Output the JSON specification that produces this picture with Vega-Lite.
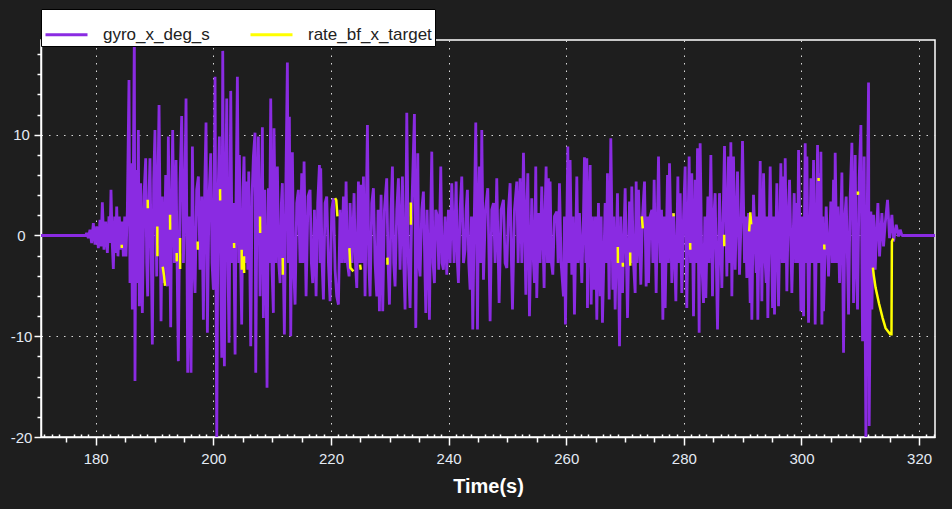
{
"$schema": "https://vega.github.io/schema/vega-lite/v6.json",
"width": 894, "height": 397,
"autosize": "none",
"padding": {"left": 41, "top": 40, "right": 17, "bottom": 72},
"background": "#1e1e1e",
"config": {"view": {"stroke": "#ffffff", "strokeWidth": 1.5}, "font": "Liberation Sans"},
"datasets": {
"gyro": [
{"t":170.7,"v":0},{"t":178.3,"v":0},
{"t":178.46,"v":0.24},{"t":178.75,"v":-0.26},{"t":179.03,"v":0.57},{"t":179.31,"v":-0.75},{"t":179.6,"v":1.23},{"t":179.88,"v":-0.92},{"t":180.16,"v":0.9},{"t":180.45,"v":-1.25},{"t":180.73,"v":1.56},{"t":180.9,"v":-1.08},{"t":181.13,"v":3.3},{"t":181.41,"v":-1.41},{"t":181.7,"v":1.39},{"t":181.98,"v":-1.74},{"t":182.26,"v":1.89},{"t":182.43,"v":-0.75},{"t":182.6,"v":4.53},{"t":182.83,"v":-1.08},{"t":183.0,"v":-3.33},{"t":183.23,"v":1.89},{"t":183.4,"v":-1.74},{"t":183.57,"v":2.88},{"t":183.79,"v":-2.07},{"t":184.02,"v":1.89},{"t":184.25,"v":-1.41},{"t":184.47,"v":1.39},{"t":184.7,"v":-2.07},{"t":184.93,"v":1.89},{"t":185.15,"v":-2.07},{"t":185.38,"v":2.55},{"t":185.66,"v":15.42},{"t":185.83,"v":-4.72},{"t":186.0,"v":7.17},{"t":186.23,"v":-7.35},{"t":186.4,"v":6.18},{"t":186.57,"v":20},{"t":186.68,"v":-14.45},{"t":186.85,"v":6.5},{"t":187.08,"v":-4.72},{"t":187.25,"v":10.47},{"t":187.42,"v":-7.03},{"t":187.65,"v":5.19},{"t":187.93,"v":-7.68},{"t":188.21,"v":3.87},{"t":188.5,"v":7.66},{"t":188.67,"v":-2.73},{"t":188.84,"v":-6.04},{"t":189.06,"v":3.87},{"t":189.23,"v":7.66},{"t":189.46,"v":-2.73},{"t":189.63,"v":-10.82},{"t":189.86,"v":5.52},{"t":190.08,"v":10.47},{"t":190.37,"v":-4.06},{"t":190.6,"v":5.85},{"t":190.77,"v":12.94},{"t":191.11,"v":-8.51},{"t":191.33,"v":3.87},{"t":191.62,"v":-4.72},{"t":191.9,"v":6.01},{"t":192.18,"v":-5.05},{"t":192.35,"v":9.81},{"t":192.75,"v":-9.1},{"t":192.92,"v":3.87},{"t":193.09,"v":10.47},{"t":193.37,"v":-2.73},{"t":193.66,"v":7.5},{"t":193.88,"v":-4.72},{"t":194.05,"v":-12.47},{"t":194.34,"v":5.19},{"t":194.62,"v":11.85},{"t":194.91,"v":-2.73},{"t":195.13,"v":3.21},{"t":195.36,"v":13.6},{"t":195.64,"v":-13.63},{"t":195.93,"v":1.89},{"t":196.21,"v":-13.63},{"t":196.44,"v":8.82},{"t":196.66,"v":-2.73},{"t":196.89,"v":-5.71},{"t":197.17,"v":4.53},{"t":197.46,"v":5.85},{"t":197.74,"v":-3.4},{"t":198.03,"v":3.87},{"t":198.31,"v":-8.35},{"t":198.54,"v":4.86},{"t":198.76,"v":11.2},{"t":198.99,"v":-9.66},{"t":199.27,"v":3.87},{"t":199.56,"v":8.16},{"t":199.78,"v":-2.73},{"t":200.01,"v":-5.38},{"t":200.29,"v":15.75},{"t":200.58,"v":-20.5},{"t":200.8,"v":3.87},{"t":201.03,"v":9.81},{"t":201.26,"v":-3.4},{"t":201.43,"v":-12.14},{"t":201.6,"v":18.32},{"t":201.88,"v":-12.97},{"t":202.11,"v":5.52},{"t":202.28,"v":13.6},{"t":202.5,"v":-3.4},{"t":202.67,"v":-10.65},{"t":202.96,"v":14.35},{"t":203.19,"v":-2.73},{"t":203.41,"v":3.21},{"t":203.7,"v":-11.81},{"t":203.87,"v":3.87},{"t":204.09,"v":15.75},{"t":204.32,"v":-2.73},
{"t":204.43,"v":7.99},{"t":204.65,"v":-2.73},{"t":204.82,"v":-8.84},{"t":205.05,"v":4.53},{"t":205.22,"v":7.83},{"t":205.45,"v":-2.73},{"t":205.68,"v":5.35},{"t":205.85,"v":-3.4},{"t":206.02,"v":6.34},{"t":206.36,"v":-10.98},{"t":206.58,"v":3.87},{"t":206.81,"v":7.83},{"t":207.09,"v":10.2},{"t":207.21,"v":-13.63},{"t":207.43,"v":3.87},{"t":207.66,"v":9.81},{"t":207.94,"v":-6.04},{"t":208.17,"v":3.87},{"t":208.34,"v":10.73},{"t":208.51,"v":-8.18},{"t":208.74,"v":4.53},{"t":208.96,"v":-3.4},{"t":209.13,"v":-15.11},{"t":209.36,"v":4.69},{"t":209.53,"v":-2.73},{"t":209.76,"v":13.6},{"t":209.98,"v":-3.4},{"t":210.21,"v":-7.68},{"t":210.32,"v":10.63},{"t":210.61,"v":-2.73},{"t":210.89,"v":6.84},{"t":211.12,"v":-2.73},{"t":211.35,"v":-4.72},{"t":211.57,"v":3.21},{"t":211.74,"v":5.19},{"t":211.91,"v":-3.4},{"t":212.08,"v":-9.83},{"t":212.31,"v":3.87},{"t":212.59,"v":17.17},{"t":212.76,"v":-2.73},{"t":212.93,"v":11.79},{"t":213.16,"v":-9.99},{"t":213.44,"v":8.26},{"t":213.67,"v":-3.4},{"t":213.9,"v":-6.86},{"t":214.18,"v":3.21},{"t":214.46,"v":4.53},{"t":214.75,"v":-2.73},{"t":215.03,"v":6.18},{"t":215.2,"v":-2.73},{"t":215.43,"v":7.33},{"t":215.77,"v":-6.04},{"t":216.11,"v":3.87},{"t":216.45,"v":4.53},{"t":216.67,"v":-2.73},{"t":216.9,"v":-4.72},{"t":217.19,"v":2.55},{"t":217.47,"v":-6.04},{"t":217.75,"v":3.21},{"t":218.04,"v":7.0},{"t":218.15,"v":-2.73},{"t":218.26,"v":6.67},{"t":218.49,"v":-2.73},{"t":218.72,"v":-6.36},{"t":219.0,"v":3.21},{"t":219.28,"v":3.87},{"t":219.57,"v":-2.73},{"t":219.85,"v":-6.53},{"t":220.13,"v":2.55},{"t":220.42,"v":3.7},{"t":220.7,"v":-3.4},{"t":220.98,"v":-6.04},{"t":221.27,"v":-6.86},{"t":221.55,"v":2.55},{"t":221.83,"v":-2.73},{"t":222.12,"v":3.87},{"t":222.34,"v":-2.73},{"t":222.57,"v":5.35},{"t":222.8,"v":-2.73},{"t":223.08,"v":-4.06},{"t":223.25,"v":3.21},{"t":223.59,"v":-2.73},{"t":223.93,"v":4.2},{"t":224.16,"v":-2.73},{"t":224.39,"v":-5.21},{"t":224.67,"v":5.35},{"t":224.9,"v":-2.73},{"t":225.12,"v":5.02},{"t":225.35,"v":-2.73},{"t":225.52,"v":5.85},{"t":225.8,"v":-6.04},{"t":226.2,"v":10.96},{"t":226.43,"v":-2.73},{"t":226.65,"v":-6.04},{"t":226.94,"v":3.21},{"t":227.22,"v":4.69},{"t":227.5,"v":-2.73},{"t":227.79,"v":-6.04},{"t":228.01,"v":2.55},{"t":228.24,"v":-7.52},
{"t":228.52,"v":4.03},{"t":228.8,"v":-7.52},{"t":229.09,"v":2.55},{"t":229.48,"v":5.68},{"t":229.71,"v":-2.73},{"t":229.94,"v":-6.86},{"t":230.22,"v":2.55},{"t":230.45,"v":6.84},{"t":230.67,"v":-2.73},{"t":230.9,"v":-5.05},{"t":231.19,"v":2.55},{"t":231.47,"v":5.68},{"t":231.75,"v":-3.4},{"t":231.98,"v":1.89},{"t":232.15,"v":5.85},{"t":232.38,"v":-2.73},{"t":232.6,"v":-7.35},{"t":232.89,"v":12.18},{"t":233.17,"v":-2.73},{"t":233.45,"v":-7.19},{"t":233.74,"v":2.55},{"t":234.19,"v":12.05},{"t":234.42,"v":-9.17},{"t":234.76,"v":8.16},{"t":234.93,"v":-2.73},{"t":235.15,"v":-4.06},{"t":235.44,"v":2.55},{"t":235.72,"v":4.36},{"t":235.95,"v":-2.73},{"t":236.12,"v":-7.68},{"t":236.34,"v":2.55},{"t":236.57,"v":-2.73},{"t":236.74,"v":-8.35},{"t":236.97,"v":2.55},{"t":237.14,"v":8.32},{"t":237.36,"v":-2.73},{"t":237.59,"v":-4.72},{"t":237.82,"v":2.55},{"t":238.1,"v":1.89},{"t":238.33,"v":-3.4},{"t":238.67,"v":6.84},{"t":238.89,"v":-2.73},{"t":239.12,"v":-3.4},{"t":239.41,"v":1.89},{"t":239.69,"v":-3.89},{"t":239.97,"v":2.55},{"t":240.26,"v":-2.73},{"t":240.54,"v":5.19},{"t":240.94,"v":-2.73},{"t":241.28,"v":5.35},{"t":241.5,"v":-2.73},{"t":241.67,"v":-4.72},{"t":241.96,"v":2.55},{"t":242.24,"v":5.85},{"t":242.53,"v":-2.73},{"t":242.81,"v":-1.41},{"t":242.98,"v":2.55},{"t":243.2,"v":4.53},{"t":243.43,"v":-2.73},{"t":243.66,"v":-5.38},{"t":243.89,"v":1.89},{"t":244.11,"v":-9.33},{"t":244.39,"v":2.55},{"t":244.62,"v":11.2},{"t":244.91,"v":-9.33},{"t":245.08,"v":2.55},{"t":245.25,"v":6.84},{"t":245.47,"v":-2.73},{"t":245.64,"v":10.47},{"t":245.93,"v":-4.39},{"t":246.27,"v":2.55},{"t":246.66,"v":4.69},{"t":247.06,"v":-8.51},{"t":247.34,"v":2.55},{"t":247.63,"v":3.21},{"t":247.91,"v":-2.73},{"t":248.19,"v":5.68},{"t":248.59,"v":-6.7},{"t":248.93,"v":2.55},{"t":249.33,"v":3.54},{"t":249.61,"v":-2.73},{"t":249.9,"v":-3.23},{"t":250.18,"v":2.55},{"t":250.46,"v":5.19},{"t":250.69,"v":-2.73},{"t":250.86,"v":-7.35},{"t":251.2,"v":2.55},{"t":251.6,"v":5.35},{"t":251.82,"v":-2.73},{"t":252.16,"v":5.68},{"t":252.45,"v":-2.73},{"t":252.73,"v":8.22},{"t":253.13,"v":-5.87},{"t":253.3,"v":2.55},{"t":253.47,"v":6.18},{"t":253.75,"v":-8.02},
{"t":254.14,"v":3.7},{"t":254.43,"v":-2.73},{"t":254.6,"v":-4.72},{"t":254.82,"v":6.84},{"t":254.99,"v":-6.2},{"t":255.28,"v":2.22},{"t":255.56,"v":-2.73},{"t":255.84,"v":4.86},{"t":256.24,"v":-5.21},{"t":256.41,"v":2.55},{"t":256.58,"v":6.84},{"t":256.81,"v":-2.73},{"t":256.98,"v":5.68},{"t":257.15,"v":-2.73},{"t":257.26,"v":5.35},{"t":257.49,"v":-2.73},{"t":257.72,"v":-3.89},{"t":258.0,"v":1.89},{"t":258.4,"v":2.38},{"t":258.62,"v":-2.73},{"t":258.85,"v":5.19},{"t":259.13,"v":-2.73},{"t":259.53,"v":-6.04},{"t":259.7,"v":1.89},{"t":259.87,"v":-8.84},{"t":260.27,"v":8.82},{"t":260.44,"v":-2.73},{"t":260.66,"v":7.5},{"t":260.95,"v":-3.89},{"t":261.17,"v":1.89},{"t":261.4,"v":-7.85},{"t":261.8,"v":5.85},{"t":262.02,"v":-2.73},{"t":262.25,"v":2.22},{"t":262.65,"v":-4.72},{"t":262.93,"v":1.89},{"t":263.1,"v":7.76},{"t":263.33,"v":-2.73},{"t":263.5,"v":7.66},{"t":263.61,"v":-7.19},{"t":263.84,"v":1.89},{"t":264.07,"v":7.0},{"t":264.24,"v":-6.86},{"t":264.46,"v":1.89},{"t":264.75,"v":-5.38},{"t":264.97,"v":1.89},{"t":265.2,"v":-8.35},{"t":265.48,"v":3.21},{"t":265.77,"v":-6.04},{"t":265.94,"v":1.89},{"t":266.16,"v":-8.67},{"t":266.62,"v":3.21},{"t":266.84,"v":-2.73},{"t":267.01,"v":6.18},{"t":267.3,"v":-6.36},{"t":267.58,"v":9.64},{"t":267.92,"v":-5.38},{"t":268.09,"v":1.89},{"t":268.32,"v":-7.35},{"t":268.71,"v":4.2},{"t":269.06,"v":-10.98},{"t":269.28,"v":1.89},{"t":269.57,"v":-5.71},{"t":270.02,"v":4.69},{"t":270.42,"v":-8.18},{"t":270.76,"v":3.37},{"t":270.98,"v":-2.73},{"t":271.15,"v":4.86},{"t":271.44,"v":-2.73},{"t":271.72,"v":-5.71},{"t":271.89,"v":5.35},{"t":272.06,"v":-2.73},{"t":272.29,"v":4.53},{"t":272.68,"v":-4.88},{"t":272.97,"v":1.89},{"t":273.31,"v":5.35},{"t":273.59,"v":-5.05},{"t":273.82,"v":1.89},{"t":273.99,"v":-4.72},{"t":274.27,"v":1.89},{"t":274.56,"v":2.55},{"t":274.73,"v":-2.73},{"t":274.95,"v":5.52},{"t":275.29,"v":-5.71},{"t":275.69,"v":7.83},{"t":275.97,"v":-2.73},{"t":276.2,"v":2.55},{"t":276.43,"v":-8.35},{"t":276.65,"v":1.89},{"t":276.82,"v":-7.19},{"t":277.22,"v":6.01},{"t":277.39,"v":-2.73},{"t":277.56,"v":7.17},{"t":277.96,"v":-4.72},{"t":278.24,"v":2.22},{"t":278.64,"v":-6.53},{"t":278.98,"v":5.85},{"t":279.15,"v":-2.73},{"t":279.38,"v":4.2},{"t":279.55,"v":-2.73},
{"t":279.65,"v":-5.71},{"t":279.94,"v":1.89},{"t":280.22,"v":6.84},{"t":280.5,"v":-7.19},{"t":280.73,"v":1.89},{"t":280.9,"v":7.83},{"t":281.13,"v":-2.73},{"t":281.35,"v":6.18},{"t":281.64,"v":-8.02},{"t":281.92,"v":5.52},{"t":282.15,"v":-2.73},{"t":282.32,"v":8.65},{"t":282.6,"v":-9.66},{"t":282.77,"v":9.15},{"t":283.06,"v":-2.73},{"t":283.34,"v":-6.7},{"t":283.57,"v":1.89},{"t":283.74,"v":-6.2},{"t":284.08,"v":3.87},{"t":284.3,"v":-2.73},{"t":284.59,"v":7.99},{"t":284.87,"v":-6.04},{"t":285.1,"v":1.89},{"t":285.32,"v":4.2},{"t":285.72,"v":-9.33},{"t":286.06,"v":4.2},{"t":286.46,"v":-5.21},{"t":286.68,"v":1.89},{"t":286.91,"v":8.88},{"t":287.31,"v":-4.06},{"t":287.59,"v":7.83},{"t":287.82,"v":-2.73},{"t":287.99,"v":9.25},{"t":288.16,"v":-6.04},{"t":288.44,"v":7.83},{"t":288.72,"v":-3.4},{"t":289.12,"v":6.34},{"t":289.46,"v":-3.89},{"t":289.75,"v":1.89},{"t":289.97,"v":9.38},{"t":290.31,"v":-2.73},{"t":290.48,"v":1.89},{"t":290.71,"v":-4.22},{"t":290.99,"v":2.22},{"t":291.28,"v":-6.7},{"t":291.39,"v":1.89},{"t":291.56,"v":-8.35},{"t":291.84,"v":4.03},{"t":292.3,"v":-3.73},{"t":292.41,"v":1.89},{"t":292.58,"v":-8.35},{"t":292.98,"v":7.4},{"t":293.26,"v":-6.53},{"t":293.55,"v":6.18},{"t":293.83,"v":-2.73},{"t":294.0,"v":-4.72},{"t":294.11,"v":1.89},{"t":294.28,"v":-8.18},{"t":294.68,"v":6.84},{"t":295.08,"v":-7.19},{"t":295.25,"v":1.89},{"t":295.41,"v":-7.85},{"t":295.81,"v":5.19},{"t":296.1,"v":-7.03},{"t":296.49,"v":7.17},{"t":296.72,"v":-2.73},{"t":296.95,"v":5.85},{"t":297.12,"v":-2.73},{"t":297.23,"v":7.66},{"t":297.51,"v":-5.54},{"t":297.74,"v":1.89},{"t":297.97,"v":5.52},{"t":298.36,"v":-5.71},{"t":298.76,"v":4.2},{"t":298.99,"v":-2.73},{"t":299.21,"v":3.21},{"t":299.33,"v":-2.73},{"t":299.5,"v":8.49},{"t":299.9,"v":-7.52},{"t":300.12,"v":1.89},{"t":300.35,"v":-8.02},{"t":300.63,"v":9.15},{"t":300.8,"v":-2.73},{"t":300.92,"v":7.83},{"t":301.2,"v":-8.67},{"t":301.6,"v":5.68},{"t":301.82,"v":-2.73},{"t":302.05,"v":7.5},{"t":302.33,"v":-8.84},{"t":302.73,"v":8.98},{"t":302.9,"v":-2.73},{"t":303.07,"v":6.18},{"t":303.18,"v":-2.73},{"t":303.3,"v":8.32},{"t":303.47,"v":-8.84},{"t":303.64,"v":1.89},{"t":303.75,"v":-7.52},{"t":304.2,"v":2.88},{"t":304.6,"v":-4.06},{"t":304.99,"v":3.37},{"t":305.22,"v":-2.73},{"t":305.45,"v":5.52},{"t":305.62,"v":-2.73},{"t":305.73,"v":8.22},{"t":306.01,"v":-2.73},
{"t":306.19,"v":2.88},{"t":306.47,"v":-4.72},{"t":306.7,"v":1.89},{"t":306.87,"v":6.24},{"t":307.15,"v":-11.64},{"t":307.38,"v":1.89},{"t":307.6,"v":3.87},{"t":307.83,"v":-2.73},{"t":308.0,"v":-7.85},{"t":308.28,"v":3.87},{"t":308.57,"v":9.21},{"t":308.85,"v":-6.7},{"t":309.13,"v":7.99},{"t":309.3,"v":-2.73},{"t":309.53,"v":-7.35},{"t":309.81,"v":5.68},{"t":310.1,"v":10.96},{"t":310.38,"v":-10.49},{"t":310.66,"v":7.83},{"t":310.95,"v":-20.5},{"t":311.17,"v":1.89},{"t":311.4,"v":15.19},{"t":311.51,"v":-18.91},{"t":311.8,"v":2.38},{"t":311.97,"v":-7.35},{"t":312.25,"v":2.05},{"t":312.53,"v":-3.4},{"t":312.82,"v":1.23},{"t":312.99,"v":3.21},{"t":313.27,"v":-2.07},{"t":313.67,"v":2.22},{"t":313.95,"v":-1.08},{"t":314.24,"v":1.23},{"t":314.63,"v":3.54},{"t":314.97,"v":-0.26},{"t":315.37,"v":2.05},{"t":315.65,"v":-0.59},{"t":316.11,"v":1.06},{"t":316.5,"v":-0.1},{"t":316.79,"v":0.57},{"t":317.07,"v":0},{"t":322.7,"v":0}
],
"target": [
{"t":184.42,"v":-0.92,"s":1},{"t":184.44,"v":-1.25,"s":1},
{"t":188.84,"v":3.54,"s":2},{"t":188.86,"v":2.71,"s":2},
{"t":190.48,"v":0.9,"s":3},{"t":190.5,"v":-2.07,"s":3},
{"t":191.39,"v":-3.1,"s":4},{"t":191.62,"v":-4.0,"s":4},{"t":191.79,"v":-5.0,"s":4},
{"t":192.64,"v":2.05,"s":5},{"t":192.66,"v":0.57,"s":5},
{"t":193.77,"v":-1.74,"s":6},{"t":193.79,"v":-2.57,"s":6},
{"t":194.34,"v":-0.26,"s":7},{"t":194.36,"v":-3.33,"s":7},
{"t":197.34,"v":-0.59,"s":8},{"t":197.36,"v":-1.41,"s":8},
{"t":201.14,"v":4.6,"s":9},{"t":201.16,"v":3.47,"s":9},
{"t":203.52,"v":-0.75,"s":10},{"t":203.54,"v":-1.25,"s":10},
{"t":204.82,"v":-1.41,"s":11},{"t":204.84,"v":-3.4,"s":11},
{"t":205.22,"v":-2.07,"s":12},{"t":205.24,"v":-3.73,"s":12},
{"t":207.94,"v":1.89,"s":13},{"t":207.96,"v":0.24,"s":13},
{"t":211.8,"v":-2.24,"s":14},{"t":211.82,"v":-3.89,"s":14},
{"t":220.7,"v":3.7,"s":15},{"t":220.9,"v":3.5,"s":15},{"t":221.1,"v":1.9,"s":15},
{"t":223.14,"v":-1.25,"s":16},{"t":223.3,"v":-3.2,"s":16},{"t":223.82,"v":-3.56,"s":16},
{"t":224.95,"v":-2.9,"s":17},{"t":225.07,"v":-3.4,"s":17},
{"t":229.6,"v":-2.2,"s":18},{"t":229.62,"v":-2.9,"s":18},
{"t":233.57,"v":3.27,"s":19},{"t":233.59,"v":1.06,"s":19},
{"t":268.77,"v":-1.15,"s":20},{"t":268.79,"v":-2.73,"s":20},
{"t":269.62,"v":-2.7,"s":21},{"t":269.64,"v":-3.1,"s":21},
{"t":270.87,"v":-1.7,"s":22},{"t":270.89,"v":-3.0,"s":22},
{"t":272.85,"v":1.9,"s":23},{"t":273.02,"v":0.7,"s":23},
{"t":278.24,"v":2.2,"s":24},{"t":278.26,"v":1.9,"s":24},
{"t":281.07,"v":-0.75,"s":25},{"t":281.09,"v":-1.41,"s":25},
{"t":286.85,"v":0.07,"s":26},{"t":286.87,"v":-1.08,"s":26},
{"t":291.1,"v":0.4,"s":27},{"t":291.3,"v":2.3,"s":27},{"t":291.45,"v":1.1,"s":27},
{"t":302.9,"v":5.7,"s":28},{"t":302.92,"v":5.4,"s":28},
{"t":303.87,"v":-0.9,"s":29},{"t":303.89,"v":-1.4,"s":29},
{"t":309.59,"v":4.36,"s":30},{"t":309.61,"v":4.03,"s":30},
{"t":312.14,"v":-3.2,"s":31},{"t":312.3,"v":-4.0,"s":31},{"t":312.6,"v":-5.2,"s":31},{"t":313.2,"v":-6.8,"s":31},{"t":313.8,"v":-8.2,"s":31},{"t":314.3,"v":-9.2,"s":31},{"t":315.09,"v":-9.8,"s":31},{"t":315.3,"v":-9.8,"s":31},{"t":315.37,"v":-0.6,"s":31},{"t":315.6,"v":-0.3,"s":31}
]
},
"encoding": {
"x": {"field": "t", "type": "quantitative",
 "scale": {"domain": [170.7, 322.7], "nice": false, "zero": false},
 "axis": {
  "title": "Time(s)", "titleFontSize": 20, "titleFontWeight": "bold", "titleColor": "#ffffff", "titlePadding": 10, "titleFont": "Liberation Sans",
  "values": [171.25,172.5,173.75,175,176.25,177.5,178.75,180,181.25,182.5,183.75,185,186.25,187.5,188.75,190,191.25,192.5,193.75,195,196.25,197.5,198.75,200,201.25,202.5,203.75,205,206.25,207.5,208.75,210,211.25,212.5,213.75,215,216.25,217.5,218.75,220,221.25,222.5,223.75,225,226.25,227.5,228.75,230,231.25,232.5,233.75,235,236.25,237.5,238.75,240,241.25,242.5,243.75,245,246.25,247.5,248.75,250,251.25,252.5,253.75,255,256.25,257.5,258.75,260,261.25,262.5,263.75,265,266.25,267.5,268.75,270,271.25,272.5,273.75,275,276.25,277.5,278.75,280,281.25,282.5,283.75,285,286.25,287.5,288.75,290,291.25,292.5,293.75,295,296.25,297.5,298.75,300,301.25,302.5,303.75,305,306.25,307.5,308.75,310,311.25,312.5,313.75,315,316.25,317.5,318.75,320,321.25,322.5],
  "labelExpr": "datum.value % 20 === 0 ? toString(datum.value) : ''",
  "labelOverlap": false, "labelFlush": false,
  "labelFontSize": 15, "labelColor": "#e4eaf4", "labelPadding": 6, "labelFont": "Liberation Sans",
  "tickColor": "#ffffff", "tickWidth": 1.5,
  "tickSize": {"expr": "datum.value % 20 === 0 ? 8 : (datum.value % 5 === 0 ? 5 : -3)"},
  "domainColor": "#ffffff", "domainWidth": 1.5,
  "grid": true, "gridColor": "#d8d8d8", "gridDash": [1.5, 6], "gridWidth": 1,
  "gridOpacity": {"expr": "datum.value % 20 === 0 ? 1 : 0"}
 }},
"y": {"field": "v", "type": "quantitative",
 "scale": {"domain": [-20, 19.4], "nice": false, "zero": false},
 "axis": {
  "title": null,
  "values": [-20,-18,-16,-14,-12,-10,-8,-6,-4,-2,0,2,4,6,8,10,12,14,16,18],
  "labelExpr": "datum.value % 10 === 0 ? toString(datum.value) : ''",
  "labelOverlap": false, "labelFlush": false,
  "labelFontSize": 15, "labelColor": "#e4eaf4", "labelAlign": "center", "labelPadding": 13, "labelFont": "Liberation Sans",
  "tickColor": "#ffffff", "tickWidth": 1.5,
  "tickSize": {"expr": "datum.value % 10 === 0 ? 7 : 4"},
  "domainColor": "#ffffff", "domainWidth": 1.5,
  "grid": true, "gridColor": "#d8d8d8", "gridDash": [1.5, 6], "gridWidth": 1,
  "gridOpacity": {"expr": "datum.value % 10 === 0 ? 1 : 0"}
 }}
},
"layer": [
{"data": {"name": "gyro"},
 "mark": {"type": "line", "strokeWidth": 2.8, "strokeJoin": "bevel", "clip": true},
 "encoding": {"color": {"datum": "gyro_x_deg_s", "type": "nominal",
   "scale": {"domain": ["gyro_x_deg_s", "rate_bf_x_target"], "range": ["#8a2be2", "#ffff00"]},
   "legend": {"orient": "none", "legendX": 0, "legendY": -31, "direction": "horizontal", "title": null,
     "fillColor": "#ffffff", "strokeColor": "#000000", "padding": 3,
     "symbolType": "stroke", "symbolSize": 1764, "symbolStrokeWidth": 3,
     "labelFontSize": 17, "labelColor": "#222222", "labelFont": "Liberation Sans", "labelOffset": 14, "columnPadding": 34}}}},
{"data": {"name": "target"},
 "mark": {"type": "line", "strokeWidth": 2.5, "clip": true},
 "encoding": {"color": {"datum": "rate_bf_x_target", "type": "nominal"},
   "detail": {"field": "s", "type": "nominal"}}}
]
}
